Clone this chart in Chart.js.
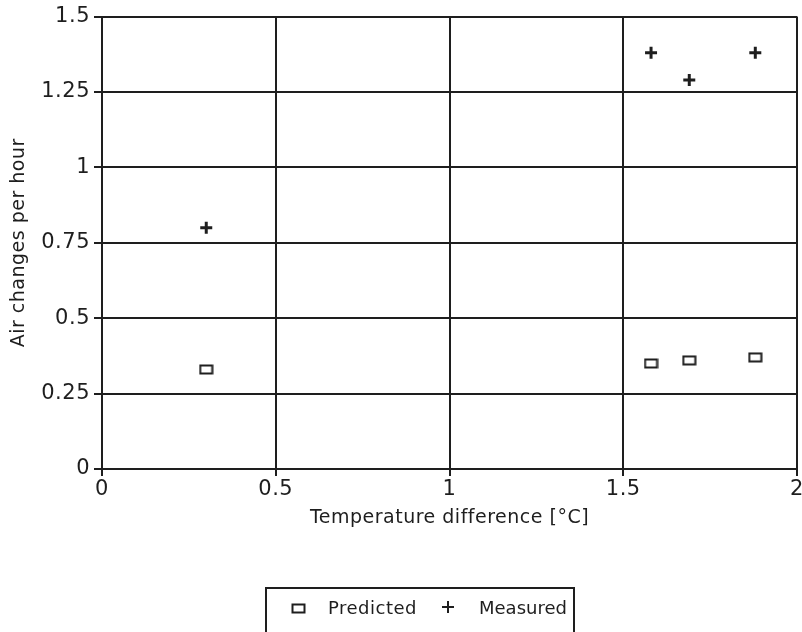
<!DOCTYPE html>
<html>
<head>
<meta charset="utf-8">
<script src="https://cdn.jsdelivr.net/npm/chart.js@4/dist/chart.umd.min.js"></script>
<style>
  html, body { margin: 0; padding: 0; background: #fff; }
  #wrap { width: 802px; height: 632px; }
</style>
</head>
<body>
<div id="wrap"><canvas id="myChart" width="802" height="632"></canvas></div>
<script>
// temperature difference [°C]
const tempDiff = [0.3, 1.58, 1.69, 1.88];
const predicted = [0.33, 0.35, 0.36, 0.37];
const measured = [0.80, 1.38, 1.29, 1.38];

const xTickLabels = ['0', '0.5', '1', '1.5', '2'];
const yTickLabels = ['0', '0.25', '0.5', '0.75', '1', '1.25', '1.5'];
const legendLabels = ['Predicted', 'Measured'];

const ink = '#1e1e1e';
const fontFam = '"DejaVu Sans", sans-serif';

// hollow rectangle marker, a bit wider than tall
function boxMarker() {
    const c = document.createElement('canvas');
    c.width = 15; c.height = 11;
    const g = c.getContext('2d');
    g.strokeStyle = ink;
    g.lineWidth = 2;
    g.strokeRect(1.5, 1.5, 12, 8);
    return c;
}
const boxImg = boxMarker();

// the old plotter font is widely spaced
const spacing = {
    id: 'spacing',
    beforeUpdate(chart) { chart.ctx.letterSpacing = '0.5px'; },
    beforeDraw(chart) { chart.ctx.letterSpacing = '0.5px'; }
};

// let the last x label hang over the edge like in the scan
const noXPad = {
    id: 'noXPad',
    beforeLayout(chart) {
        const xs = chart.scales.x;
        xs.getPadding = () => ({left: 0, top: 0, right: 0, bottom: 0});
    }
};

// legend in a framed box under the chart
const boxedLegend = {
    id: 'boxedLegend',
    afterDraw(chart) {
        const ctx = chart.ctx;
        ctx.save();
        ctx.strokeStyle = ink;
        ctx.lineWidth = 2;
        ctx.strokeRect(266, 588, 308, 52);
        ctx.fillStyle = ink;
        ctx.font = '18px ' + fontFam;
        ctx.textBaseline = 'middle';
        ctx.textAlign = 'left';
        ctx.drawImage(boxImg, 291, 603);
        ctx.fillText(legendLabels[0], 328, 609);
        ctx.strokeStyle = ink;
        Chart.helpers.drawPoint(ctx, {pointStyle: 'cross', radius: 6, rotation: 0, borderWidth: 3}, 448, 607);
        ctx.letterSpacing = '0px';
        ctx.fillText(legendLabels[1], 479, 609);
        ctx.restore();
    }
};

const ctx = document.getElementById('myChart');

const myChart = new Chart(ctx, {
    type: 'scatter',
    data: {
        datasets: [{
            label: legendLabels[0],
            data: tempDiff.map((x, i) => ({x: x, y: predicted[i]})),
            pointStyle: boxImg,
            pointRadius: 6
        }, {
            label: legendLabels[1],
            data: tempDiff.map((x, i) => ({x: x, y: measured[i]})),
            pointStyle: 'cross',
            pointRadius: 6,
            borderWidth: 3,
            borderColor: ink,
            backgroundColor: ink
        }]
    },
    options: {
        responsive: false,
        animation: false,
        layout: { autoPadding: false, padding: { left: 8, right: 5, top: 14, bottom: 103 } },
        plugins: {
            legend: { display: false },
            tooltip: { enabled: false }
        },
        scales: {
            x: {
                type: 'linear',
                min: 0, max: 2,
                afterFit: (s) => { s.height = 60; s.paddingRight = 0; },
                ticks: {
                    stepSize: 0.5,
                    color: ink,
                    padding: 1,
                    maxRotation: 0,
                    font: { family: fontFam, size: 21 },
                    callback: (v) => xTickLabels[Math.round(v / 0.5)]
                },
                grid: { color: ink, lineWidth: 2, tickLength: 7, tickColor: ink },
                border: { color: ink, width: 2 },
                title: {
                    display: true,
                    text: 'Temperature difference [°C]',
                    color: ink,
                    padding: { top: 4, bottom: 0 },
                    font: { family: fontFam, size: 19 }
                }
            },
            y: {
                min: 0, max: 1.5,
                afterFit: (s) => { s.width = 94; },
                ticks: {
                    stepSize: 0.25,
                    color: ink,
                    padding: 4,
                    font: { family: fontFam, size: 21 },
                    callback: (v) => yTickLabels[Math.round(v / 0.25)]
                },
                grid: { color: ink, lineWidth: 2, tickLength: 8, tickColor: ink },
                border: { color: ink, width: 2 },
                title: {
                    display: true,
                    text: 'Air changes per hour',
                    color: ink,
                    padding: { top: 0, bottom: 4 },
                    font: { family: fontFam, size: 19 }
                }
            }
        }
    },
    plugins: [spacing, noXPad, boxedLegend]
});
</script>
</body>
</html>
